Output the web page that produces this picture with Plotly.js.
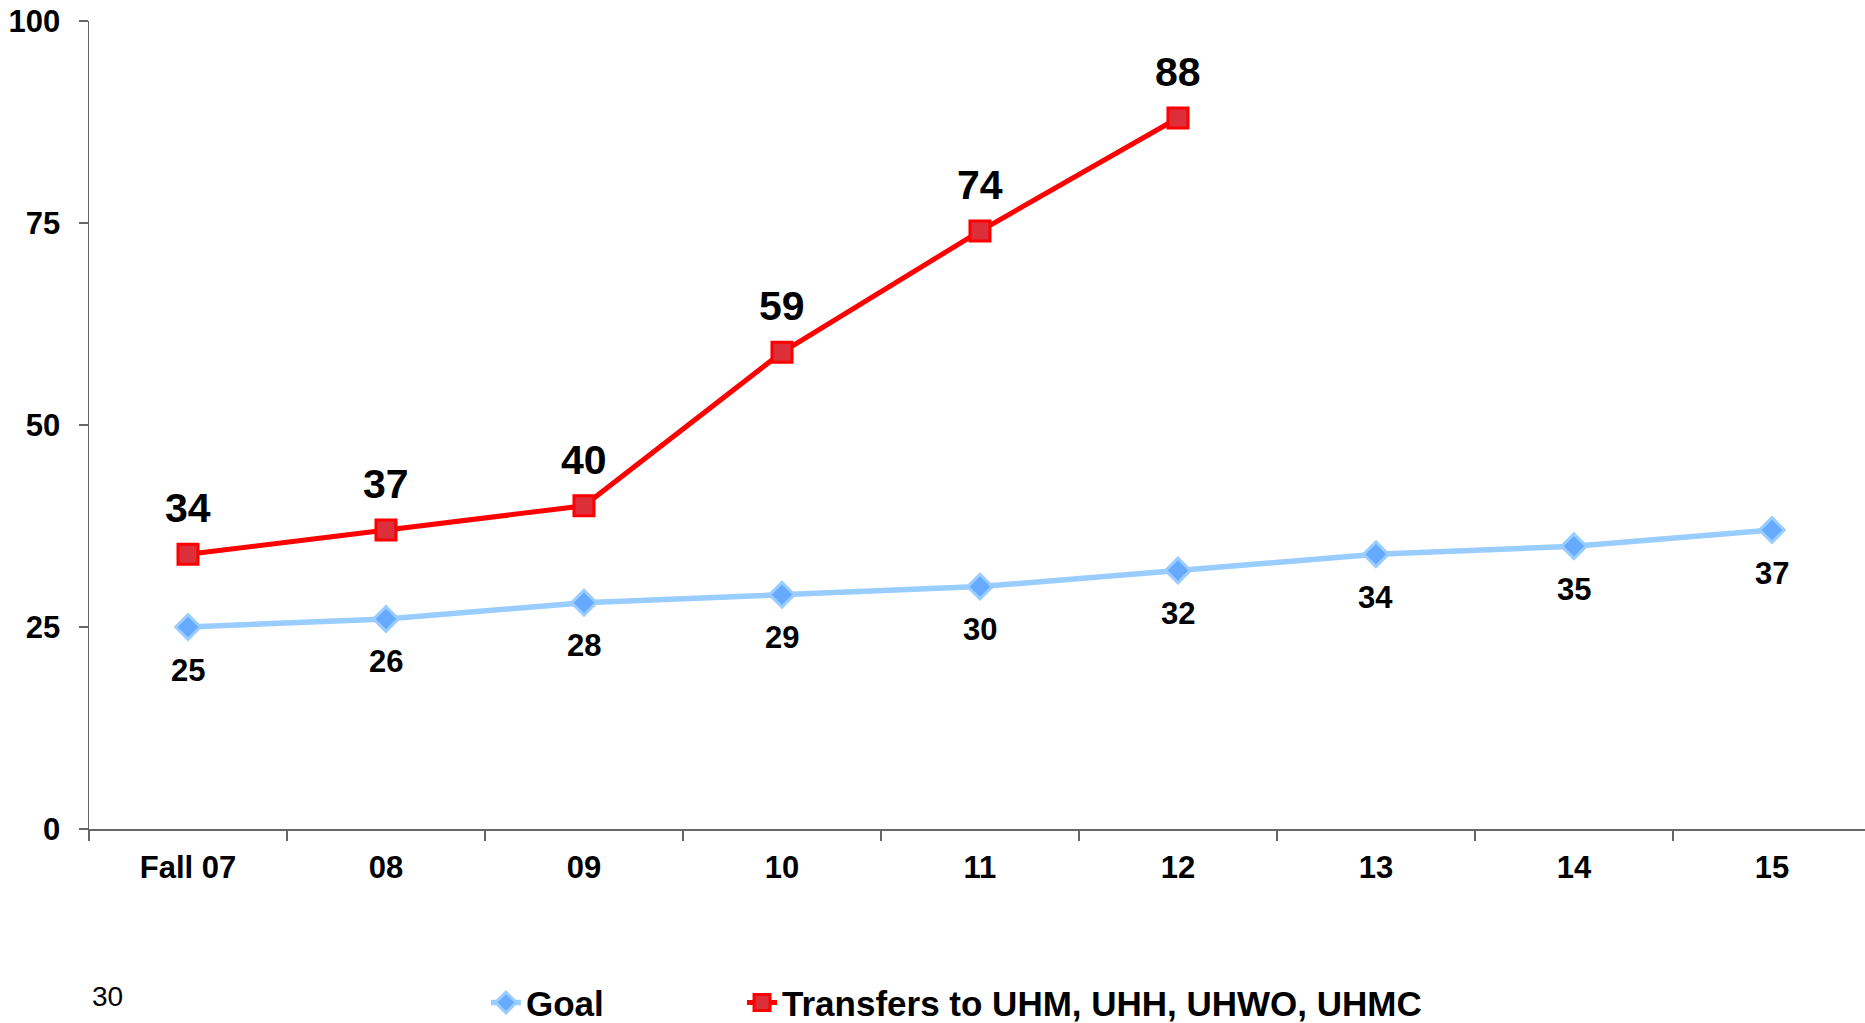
<!DOCTYPE html>
<html>
<head>
<meta charset="utf-8">
<script src="https://cdn.plot.ly/plotly-3.0.1.min.js"></script>
<style>html,body{margin:0;padding:0;background:#fff;}#chart{width:1865px;height:1023px;}</style>
</head>
<body>
<div id="chart"></div>
<script>
const categories = ['Fall 07', '08', '09', '10', '11', '12', '13', '14', '15'];
const goalValues = [25, 26, 28, 29, 30, 32, 34, 35, 37];
const transferCategories = ['Fall 07', '08', '09', '10', '11', '12'];
const transferValues = [34, 37, 40, 59, 74, 88];
const yTicks = [0, 25, 50, 75, 100];
const seriesNames = ['Goal', 'Transfers to UHM, UHH, UHWO, UHMC'];
const pageNumber = '30';

const FONT = 'Liberation Sans, Arial, sans-serif';

const traces = [
  {
    x: categories, y: goalValues, name: seriesNames[0], type: 'scatter', mode: 'lines+markers',
    line: {color: '#99ccff', width: 5.5},
    marker: {symbol: 'diamond', size: 19, color: '#66aaff', line: {color: '#99ccff', width: 3}},
    legend: 'legend', hoverinfo: 'skip'
  },
  {
    x: transferCategories, y: transferValues, name: seriesNames[1], type: 'scatter', mode: 'lines+markers',
    line: {color: '#ff0000', width: 5},
    marker: {symbol: 'square', size: 20, color: '#dc2f3a', line: {color: '#ff0000', width: 3}},
    legend: 'legend2', hoverinfo: 'skip'
  }
];

const annotations = [];
categories.forEach((c, i) => {
  annotations.push({x: i, y: goalValues[i], xref: 'x', yref: 'y', text: String(goalValues[i]),
    showarrow: false, yshift: -43, font: {family: FONT, size: 31, color: '#000', weight: 'bold'}});
});
transferCategories.forEach((c, i) => {
  annotations.push({x: categories.indexOf(c), y: transferValues[i], xref: 'x', yref: 'y', text: String(transferValues[i]),
    showarrow: false, yshift: 46, font: {family: FONT, size: 41, color: '#000', weight: 'bold'}});
});
annotations.push({x: 0.0005, y: -0.207, xref: 'paper', yref: 'paper', xanchor: 'left', yanchor: 'middle',
  text: pageNumber, showarrow: false, font: {family: FONT, size: 28, color: '#000'}});

const legendFont = {family: FONT, size: 35, color: '#000', weight: 'bold'};

const layout = {
  width: 1865, height: 1023,
  margin: {l: 89, r: 0, t: 21, b: 194, autoexpand: false},
  paper_bgcolor: '#fff', plot_bgcolor: '#fff',
  showlegend: true,
  legend: {orientation: 'h', x: 0.2235, y: -0.215, xanchor: 'left', yanchor: 'middle',
    font: legendFont, itemclick: false, bgcolor: 'rgba(0,0,0,0)'},
  legend2: {orientation: 'h', x: 0.3677, y: -0.215, xanchor: 'left', yanchor: 'middle',
    font: legendFont, itemclick: false, bgcolor: 'rgba(0,0,0,0)'},
  xaxis: {
    type: 'category', range: [-0.5, 8.47], tickson: 'boundaries',
    showgrid: false, zeroline: false, showline: true, linecolor: '#666', linewidth: 1.5,
    ticks: 'outside', ticklen: 10, tickcolor: '#666', tickwidth: 1.5,
    tickfont: {family: FONT, size: 31, color: '#000', weight: 'bold'},
    ticklabelstandoff: 10, fixedrange: true
  },
  yaxis: {
    range: [0, 100], tickvals: yTicks, ticktext: yTicks.map(String),
    showgrid: false, zeroline: false, showline: true, linecolor: '#666', linewidth: 1.5,
    ticks: 'outside', ticklen: 9, tickcolor: '#666', tickwidth: 1.5,
    tickfont: {family: FONT, size: 31, color: '#000', weight: 'bold'},
    ticklabelstandoff: 12, fixedrange: true
  },
  annotations: annotations
};

Plotly.newPlot('chart', traces, layout, {displayModeBar: false, staticPlot: true});
</script>
</body>
</html>
